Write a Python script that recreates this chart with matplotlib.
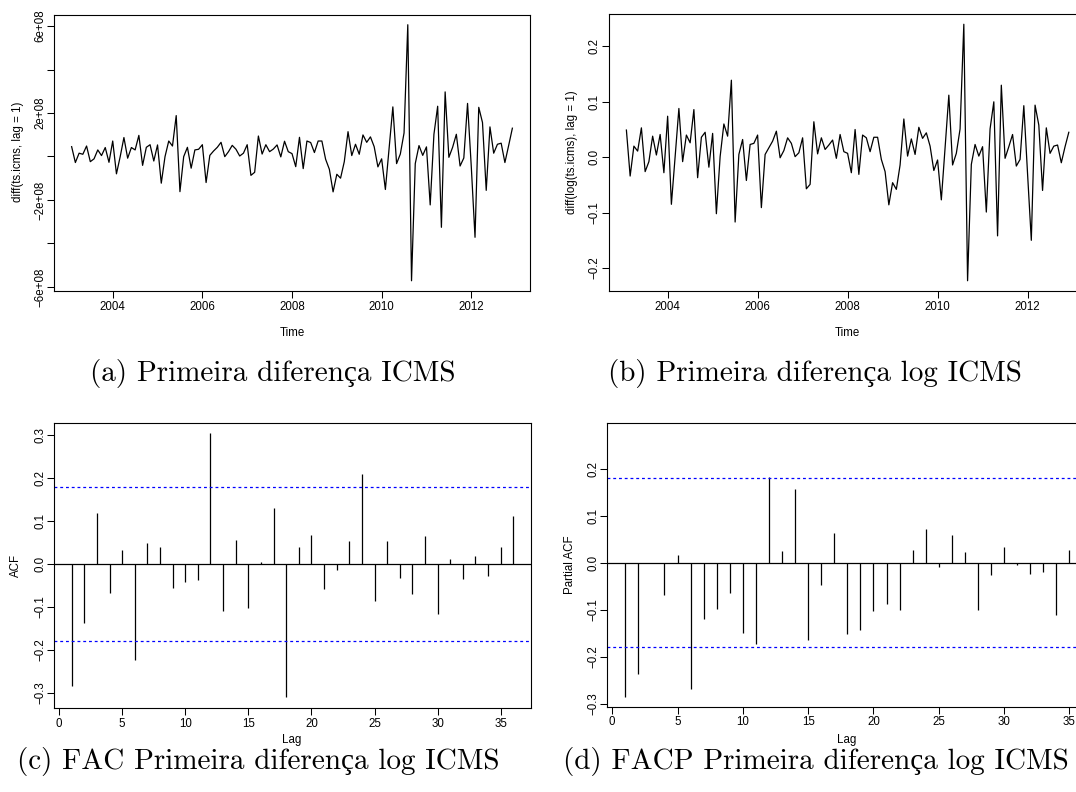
import numpy as np
import matplotlib
matplotlib.use("Agg")
import matplotlib.pyplot as plt

plt.rcParams['font.family'] = ['Liberation Sans', 'DejaVu Sans']

# ---------------- data ----------------
start_year = 2003
start_month = 2          # first differenced observation: Feb 2003
freq = 12

# first difference of ICMS (units of 1e8)
diff_icms_e8 = [0.45, -0.28, 0.15, 0.10, 0.48, -0.24, -0.11, 0.30, 0.04, 0.41,
                -0.27, 0.71, -0.80, -0.01, 0.87, -0.08, 0.41, 0.30, 0.97, -0.41,
                0.42, 0.54, -0.21, 0.53, -1.23, -0.01, 0.71, 0.48, 1.88, -1.62,
                -0.01, 0.42, -0.54, 0.30, 0.33, 0.54, -1.20, 0.05, 0.25, 0.42,
                0.65, -0.01, 0.22, 0.51, 0.33, 0.02, 0.15, 0.54, -0.87, -0.73,
                0.94, 0.11, 0.54, 0.22, 0.34, 0.53, -0.02, 0.70, 0.22, 0.13,
                -0.47, 0.88, -0.56, 0.71, 0.64, 0.18, 0.71, 0.71, -0.13, -0.59,
                -1.63, -0.82, -1.00, -0.24, 1.14, 0.04, 0.56, 0.10, 0.99, 0.65,
                0.90, 0.45, -0.48, -0.11, -1.52, 0.38, 2.28, -0.33, 0.11, 1.08,
                6.06, -5.72, -0.33, 0.50, 0.05, 0.44, -2.23, 1.02, 2.31, -3.26,
                2.97, -0.04, 0.42, 1.02, -0.44, -0.07, 2.44, -0.47, -3.72, 2.26,
                1.56, -1.56, 1.36, 0.15, 0.56, 0.61, -0.28, 0.50, 1.30]

# first difference of log ICMS
diff_log_icms = [0.049, -0.034, 0.020, 0.011, 0.053, -0.026, -0.008, 0.038, 0.004, 0.041,
                 -0.028, 0.074, -0.085, 0.001, 0.088, -0.008, 0.040, 0.026, 0.086, -0.037,
                 0.036, 0.045, -0.018, 0.043, -0.102, 0.001, 0.060, 0.038, 0.139, -0.117,
                 0.005, 0.032, -0.042, 0.023, 0.025, 0.040, -0.091, 0.005, 0.017, 0.029,
                 0.047, -0.001, 0.012, 0.035, 0.025, 0.001, 0.008, 0.035, -0.057, -0.049,
                 0.064, 0.006, 0.035, 0.014, 0.022, 0.031, -0.002, 0.041, 0.010, 0.007,
                 -0.028, 0.050, -0.031, 0.040, 0.035, 0.010, 0.036, 0.036, -0.004, -0.026,
                 -0.086, -0.046, -0.058, -0.014, 0.069, 0.002, 0.033, 0.005, 0.054, 0.034,
                 0.044, 0.020, -0.024, -0.005, -0.077, 0.017, 0.112, -0.014, 0.007, 0.051,
                 0.240, -0.223, -0.013, 0.023, 0.002, 0.019, -0.099, 0.051, 0.100, -0.142,
                 0.130, -0.002, 0.019, 0.041, -0.016, -0.004, 0.093, -0.030, -0.150, 0.094,
                 0.058, -0.060, 0.053, 0.007, 0.020, 0.022, -0.010, 0.019, 0.045]

lags = list(range(1, 37))
acf_vals = [-0.284, -0.137, 0.117, -0.067, 0.031, -0.224, 0.048, 0.039, -0.056, -0.042,
            -0.038, 0.304, -0.109, 0.055, -0.104, 0.005, 0.129, -0.311, 0.038, 0.068,
            -0.058, -0.014, 0.053, 0.208, -0.087, 0.053, -0.033, -0.070, 0.065, -0.117,
            0.011, -0.035, 0.019, -0.028, 0.039, 0.112]
pacf_vals = [-0.286, -0.237, -0.001, -0.068, 0.017, -0.269, -0.120, -0.098, -0.065, -0.149,
             -0.174, 0.182, 0.024, 0.157, -0.165, -0.048, 0.063, -0.151, -0.144, -0.103,
             -0.088, -0.101, 0.027, 0.071, -0.010, 0.058, 0.023, -0.101, -0.026, 0.034,
             -0.005, -0.024, -0.020, -0.111, 0.028, 0.040]
conf_limit = 0.1797

time_ticks = [2004, 2006, 2008, 2010, 2012]
time_ticklabels = ['2004', '2006', '2008', '2010', '2012']
ya_ticks = [-6e8, -4e8, -2e8, 0, 2e8, 4e8, 6e8]
ya_labels = ['\u22126e+08', '', '\u22122e+08', '', '2e+08', '', '6e+08']
yb_ticks = [-0.2, -0.1, 0.0, 0.1, 0.2]
yb_labels = ['\u22120.2', '\u22120.1', '0.0', '0.1', '0.2']
yc_ticks = [-0.3, -0.2, -0.1, 0.0, 0.1, 0.2, 0.3]
yc_labels = ['\u22120.3', '\u22120.2', '\u22120.1', '0.0', '0.1', '0.2', '0.3']
yd_ticks = [-0.3, -0.2, -0.1, 0.0, 0.1, 0.2]
yd_labels = ['\u22120.3', '\u22120.2', '\u22120.1', '0.0', '0.1', '0.2']
lag_ticks = [0, 5, 10, 15, 20, 25, 30, 35]
lag_labels = ['0', '5', '10', '15', '20', '25', '30', '35']

captions = ['(a) Primeira diferença ICMS',
            '(b) Primeira diferença log ICMS',
            '(c) FAC Primeira diferença log ICMS',
            '(d) FACP Primeira diferença log ICMS']

# ---------------- figure ----------------
W, H = 1076, 792
fig = plt.figure(figsize=(W / 100, H / 100), dpi=100)


def ax_px(l, t, r, b):
    return fig.add_axes([l / W, 1 - b / H, (r - l) / W, (b - t) / H])


def rlim(lo, hi):
    d = (hi - lo) * 0.04
    return lo - d, hi + d


FS = 8.3


def style(ax, xt, xl, yt, yl):
    for s in ax.spines.values():
        s.set_linewidth(0.8)
        s.set_color('black')
    ax.set_xticks(xt, xl)
    ax.set_yticks(yt, yl)
    ax.tick_params(axis='both', direction='out', length=5, width=0.75,
                   labelsize=FS, top=False, right=False, colors='black')
    ax.tick_params(axis='x', pad=2)
    ax.tick_params(axis='y', pad=0.6)
    for lab in ax.get_yticklabels():
        lab.set_rotation(90)
        lab.set_va('center')
        lab.set_ha('right')


diff_icms = np.array(diff_icms_e8) * 1e8
n = len(diff_icms)
t = start_year + (start_month - 1) / freq + np.arange(n) / freq

# (a)
axa = ax_px(54, 14.5, 530, 291)
axa.plot(t, diff_icms, color='black', lw=0.9)
axa.set_xlim(*rlim(t[0], t[-1]))
axa.set_ylim(*rlim(min(diff_icms), max(diff_icms)))
style(axa, time_ticks, time_ticklabels, ya_ticks, ya_labels)

# (b)
axb = ax_px(608.7, 14, 1086.5, 291)
axb.plot(t, diff_log_icms, color='black', lw=0.9)
axb.set_xlim(*rlim(t[0], t[-1]))
axb.set_ylim(*rlim(min(diff_log_icms), max(diff_log_icms)))
style(axb, time_ticks, time_ticklabels, yb_ticks, yb_labels)

# (c)
axc = ax_px(54, 422.5, 531, 708)
axc.vlines(lags, 0, acf_vals, color='black', lw=0.9)
axc.axhline(0, color='black', lw=0.9)
for s in (conf_limit, -conf_limit):
    axc.axhline(s, color='#0000FF', lw=0.9, dashes=(2.3, 2.3))
axc.set_xlim(*rlim(lags[0], lags[-1]))
axc.set_ylim(*rlim(min(acf_vals + [-conf_limit]), max(acf_vals + [conf_limit])))
style(axc, lag_ticks, lag_labels, yc_ticks, yc_labels)

# (d)
axd = ax_px(607, 422.6, 1100.7, 706.5)
axd.vlines(lags, 0, pacf_vals, color='black', lw=0.9)
axd.axhline(0, color='black', lw=0.9)
for s in (conf_limit, -conf_limit):
    axd.axhline(s, color='#0000FF', lw=0.9, dashes=(2.3, 2.3))
axd.set_xlim(*rlim(lags[0], lags[-1]))
axd.set_ylim(-0.306, 0.298)
style(axd, lag_ticks, lag_labels, yd_ticks, yd_labels)

# axis titles
lab_kw = dict(fontsize=FS, color='black', ha='center', va='center')
fig.text(18 / W, 1 - 152 / H, 'diff(ts.icms, lag = 1)', rotation=90, **lab_kw)
fig.text(572.5 / W, 1 - 152 / H, 'diff(log(ts.icms), lag = 1)', rotation=90, **lab_kw)
fig.text(15.5 / W, 1 - 565 / H, 'ACF', rotation=90, **lab_kw)
fig.text(570 / W, 1 - 565 / H, 'Partial ACF', rotation=90, **lab_kw)
fig.text(292 / W, 1 - 333 / H, 'Time', **lab_kw)
fig.text(847 / W, 1 - 333 / H, 'Time', **lab_kw)
fig.text(292 / W, 1 - 740 / H, 'Lag', **lab_kw)
fig.text(847 / W, 1 - 740 / H, 'Lag', **lab_kw)

cap_kw = dict(fontsize=21, color='black', ha='center', va='center',
              family=['cmr10', 'Liberation Serif'])
fig.text(273 / W, 1 - 373 / H, captions[0], **cap_kw)
fig.text(815 / W, 1 - 373 / H, captions[1], **cap_kw)
fig.text(258 / W, 1 - 762 / H, captions[2], **cap_kw)
fig.text(816 / W, 1 - 762 / H, captions[3], **cap_kw)

fig.savefig('out.png', dpi=100)
